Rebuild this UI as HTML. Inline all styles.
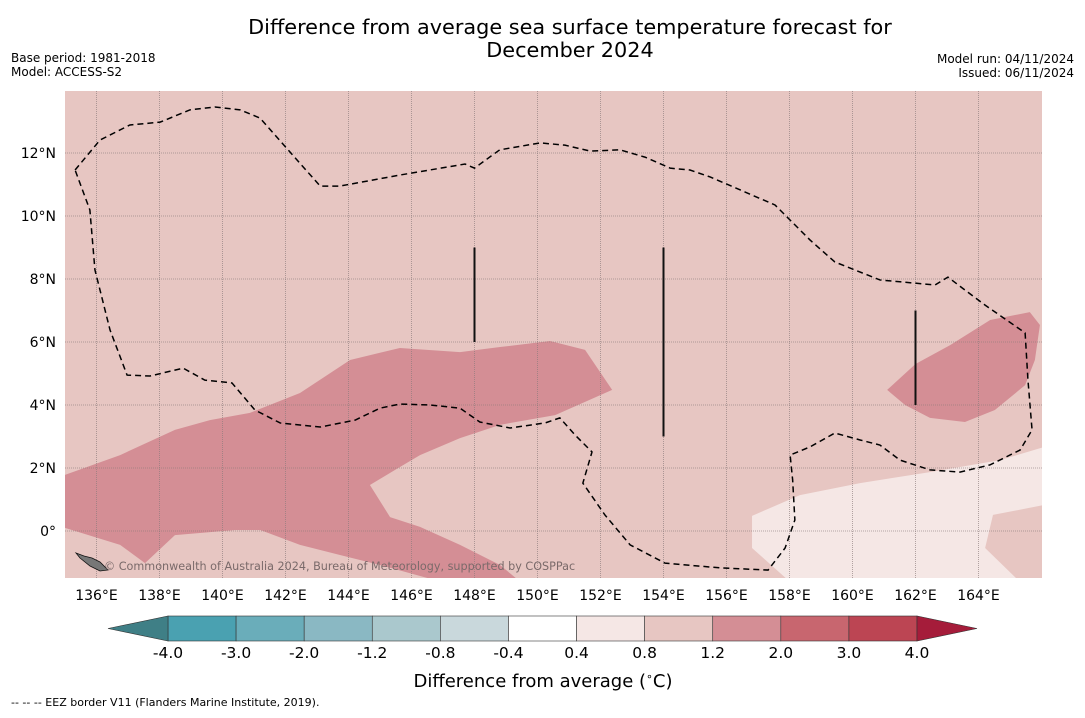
<!DOCTYPE html>
<html><head><meta charset="utf-8"><style>
body{margin:0;background:#fff;width:1085px;height:713px;overflow:hidden;font-family:"Liberation Sans","DejaVu Sans",sans-serif;}
svg text{font-family:"DejaVu Sans","Liberation Sans",sans-serif;}
</style></head><body>
<svg id="chart" width="1085" height="713" xmlns="http://www.w3.org/2000/svg">
<text x="570" y="34" font-size="20.8" text-anchor="middle">Difference from average sea surface temperature forecast for</text>
<text x="570" y="57" font-size="20.8" text-anchor="middle">December 2024</text>
<text x="11" y="62" font-size="12">Base period: 1981-2018</text>
<text x="11" y="76" font-size="12">Model: ACCESS-S2</text>
<text x="1074" y="63" font-size="12" text-anchor="end">Model run: 04/11/2024</text>
<text x="1074" y="77" font-size="12" text-anchor="end">Issued: 06/11/2024</text>
<defs><clipPath id="mapclip"><rect x="65" y="91" width="977" height="487"/></clipPath></defs>
<g id="map" clip-path="url(#mapclip)">
<rect x="65" y="91" width="977" height="487" fill="#e7c6c2"/>
</g>
<g id="axes"></g>
<g id="cbar"></g>
<text x="543" y="687" font-size="18" text-anchor="middle">Difference from average (<tspan font-size="11" dy="-7">∘</tspan><tspan dy="7">C)</tspan></text>
<text x="11" y="706" font-size="11">--  --  -- EEZ border V11 (Flanders Marine Institute, 2019).</text>
</svg>
<script>
const NS="http://www.w3.org/2000/svg";
const lonTicks=[136,138,140,142,144,146,148,150,152,154,156,158,160,162,164];
const latTicks=[0,2,4,6,8,10,12];
const cbLevels=["-4.0","-3.0","-2.0","-1.2","-0.8","-0.4","0.4","0.8","1.2","2.0","3.0","4.0"];
const cbColors=["#4aa1b1","#6aadba","#8ab8c3","#aac8cd","#c9d8dc","#ffffff","#f5e7e5","#e7c6c2","#d48e95","#c8666f","#bc4553"];
const cbExtColors=["#3f7f86","#a51c3a"];
const region12a=[[135,1.78],[136.75,2.41],[138.49,3.21],[139.6,3.52],[140.87,3.75],[142.46,4.38],[144.05,5.43],[145.63,5.81],[147.54,5.68],[148.81,5.84],[150.4,6.03],[151.51,5.75],[152.37,4.48],[150.56,3.68],[148.81,3.37],[147.54,2.95],[146.27,2.41],[145.48,1.94],[144.68,1.46],[145.32,0.44],[146.27,0.13],[147.54,-0.44],[148.81,-1.08],[149.44,-1.6],[146.9,-1.6],[145,-1.08],[143.73,-0.76],[142.46,-0.44],[141.2,0.03],[140.4,0.03],[138.49,-0.13],[137.54,-1.02],[136.75,-0.44],[135,0.1]];
const region12b=[[161.1,4.48],[162,5.3],[163.1,5.9],[164.37,6.7],[165.63,6.95],[165.95,6.54],[165.79,5.43],[165.48,4.63],[164.52,3.84],[163.57,3.46],[162.46,3.59],[161.67,4.0]];
const region04=[[156.81,0.48],[158.33,1.14],[160.24,1.52],[162.46,1.87],[164.68,2.25],[166.1,2.67],[166.1,0.83],[164.46,0.51],[164.21,-0.54],[165.3,-1.6],[158,-1.6],[156.81,-0.54]];
const eez=[[135.32,11.46],[136.11,12.41],[137.06,12.89],[138.02,12.98],[138.97,13.37],[139.76,13.46],[140.56,13.37],[141.19,13.11],[143.1,10.95],[143.73,10.95],[145.63,11.3],[147.7,11.65],[148,11.52],[148.8,12.1],[150.08,12.32],[150.87,12.25],[151.67,12.06],[152.62,12.1],[153.41,11.87],[154.21,11.52],[154.84,11.46],[155.48,11.24],[156.43,10.83],[157.54,10.35],[158.02,9.87],[158.65,9.24],[159.44,8.54],[160.87,7.97],[162.62,7.81],[163.03,8.06],[163.57,7.65],[164.21,7.17],[165.48,6.29],[165.57,4.79],[165.7,3.21],[165.32,2.57],[164.37,2.1],[163.41,1.87],[162.46,1.94],[161.51,2.25],[160.87,2.73],[160.24,2.89],[159.44,3.11],[158.65,2.67],[158.02,2.41],[158.1,1.62],[158.17,0.35],[157.86,-0.54],[157.32,-1.24],[155.79,-1.17],[154.05,-1.02],[152.94,-0.44],[152.14,0.51],[151.44,1.52],[151.73,2.51],[151.19,3.05],[150.71,3.59],[150.24,3.43],[149.13,3.27],[148.17,3.46],[147.54,3.9],[146.59,4.0],[145.63,4.03],[145,3.9],[144.21,3.52],[143.1,3.3],[141.83,3.43],[141.03,3.84],[140.3,4.7],[139.44,4.79],[138.75,5.17],[137.7,4.92],[136.97,4.95],[136.43,6.38],[135.95,8.29],[135.79,10.19],[135.32,11.46]];
const bars=[[148,9,6],[154,9,3],[162,7,4]];
const lonMin=135,lonMax=166,latMin=-1.5,latMax=14;
const X=l=>65+(l-lonMin)*31.5, Y=l=>531-l*31.5;
function el(t,a,p){const e=document.createElementNS(NS,t);for(const k in a)e.setAttribute(k,a[k]);p.appendChild(e);return e;}
const map=document.getElementById('map'),axes=document.getElementById('axes'),cb=document.getElementById('cbar');
function poly(pts,fill,name){const e=el('polygon',{points:pts.map(p=>X(p[0])+','+Y(p[1])).join(' '),fill:fill},map);

}
poly(region12a,cbColors[8],'anomaly-region-west');
poly(region12b,cbColors[8],'anomaly-region-east');
poly(region04,cbColors[6],'anomaly-region-southeast');
lonTicks.forEach(l=>{const g=el('line',{x1:X(l),x2:X(l),y1:91,y2:578,stroke:'#8a7a7a','stroke-width':0.8,'stroke-dasharray':'1,1','stroke-opacity':0.8},map);


const t=el('text',{x:X(l),y:600,'font-size':14,'text-anchor':'middle'},axes);t.textContent=l+'°E';

});
latTicks.forEach(l=>{const g=el('line',{x1:65,x2:1042,y1:Y(l),y2:Y(l),stroke:'#8a7a7a','stroke-width':0.8,'stroke-dasharray':'1,1','stroke-opacity':0.8},map);


const t=el('text',{x:56,y:Y(l)+5,'font-size':14,'text-anchor':'end'},axes);t.textContent=l===0?'0°':l+'°N';

});
const ez=el('polyline',{points:eez.map(p=>X(p[0])+','+Y(p[1])).join(' '),fill:'none',stroke:'#000','stroke-width':1.5,'stroke-dasharray':'6,4'},map);


bars.forEach(b=>{const e=el('line',{x1:X(b[0]),x2:X(b[0]),y1:Y(b[1]),y2:Y(b[2]),stroke:'#111','stroke-width':2},map);

});
const isl=el('polygon',{points:'76,553 84,556 92,558 100,562 108,570 100,571 90,566 80,558',fill:'#777',stroke:'#111','stroke-width':0.8},map);


const cp=el('text',{x:104,y:570,'font-size':11.2,fill:'#7a6a6a'},map);cp.textContent='© Commonwealth of Australia 2024, Bureau of Meteorology, supported by COSPPac';


const b0=168,b1=917,n=cbColors.length,w=(b1-b0)/n,ty=616,bh=25;
cbColors.forEach((c,i)=>{const r=el('rect',{x:b0+i*w,y:ty,width:w,height:bh,fill:c,stroke:'#333','stroke-width':0.6},cb);

});
const lt=el('polygon',{points:`${b0},${ty} ${b0},${ty+bh} 108,${ty+bh/2}`,fill:cbExtColors[0],stroke:'#333','stroke-width':0.6},cb);


const rt=el('polygon',{points:`${b1},${ty} ${b1},${ty+bh} 977,${ty+bh/2}`,fill:cbExtColors[1],stroke:'#333','stroke-width':0.6},cb);


cbLevels.forEach((s,i)=>{const t=el('text',{x:b0+i*w,y:658,'font-size':15.5,'text-anchor':'middle'},cb);t.textContent=s;

});
</script>
</body></html>
